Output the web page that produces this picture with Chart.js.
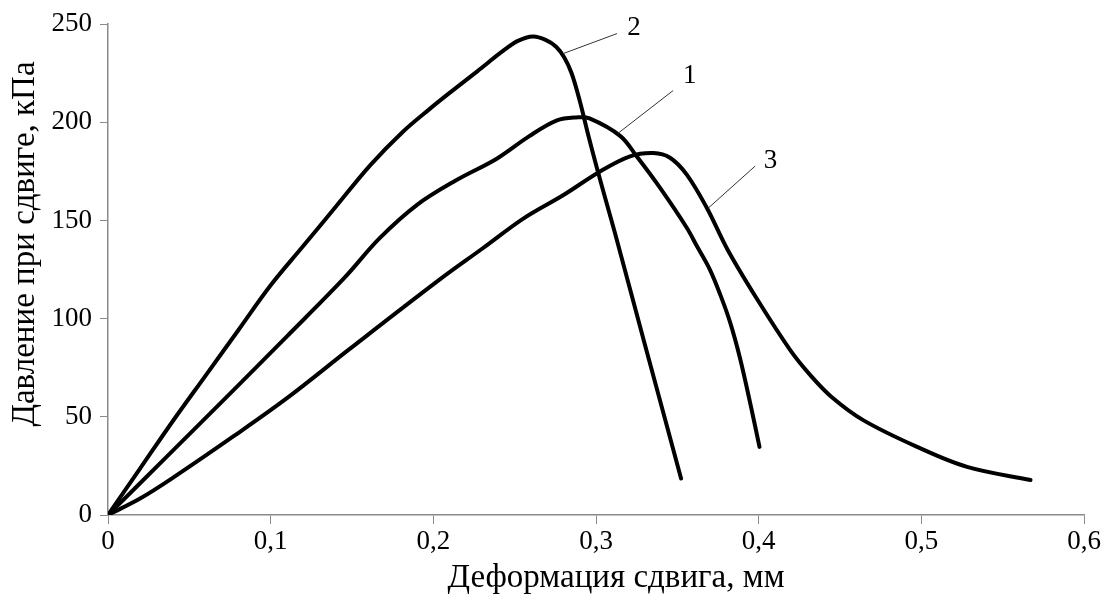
<!DOCTYPE html>
<html>
<head>
<meta charset="utf-8">
<script src="https://cdn.jsdelivr.net/npm/chart.js@4.4.1/dist/chart.umd.min.js"></script>
<style>
  html, body { margin: 0; padding: 0; background: #ffffff; }
  #wrap { width: 1111px; height: 601px; }
</style>
</head>
<body>
<div id="wrap"><canvas id="c" width="1111" height="601"></canvas></div>
<script>
// Shear deformation (mm) vs shear pressure (kPa), three specimens
const curve1X = [0, 0.036, 0.077, 0.110, 0.145, 0.167, 0.190, 0.214, 0.239, 0.259, 0.276, 0.288, 0.296, 0.315, 0.325, 0.3394, 0.3558, 0.362, 0.370, 0.3765, 0.3825, 0.3885, 0.3948, 0.4005];
const curve1Y = [0, 29.6, 63.5, 91, 120.5, 141, 158, 170.5, 181.5, 193, 201, 202.5, 202, 193, 182.7, 166.6, 146.3, 137, 125, 112, 98, 80, 57, 34.7];

const curve2X = [0, 0.020, 0.040, 0.060, 0.080, 0.100, 0.120, 0.140, 0.161, 0.181, 0.198, 0.210, 0.227, 0.243, 0.252, 0.2613, 0.2690, 0.2755, 0.2805, 0.285, 0.290, 0.2951, 0.3006, 0.3068, 0.3117, 0.330, 0.3523];
const curve2Y = [0, 24, 48, 71, 94, 117, 137, 157, 178, 195, 207, 215, 226, 236.5, 241.5, 243.7, 242, 238.5, 233, 225, 211, 194, 176.6, 158, 143.5, 87, 18.6];

const curve3X = [0, 0.020, 0.040, 0.077, 0.110, 0.1486, 0.204, 0.2306, 0.2553, 0.280, 0.3025, 0.3209, 0.3353, 0.3455, 0.3558, 0.3681, 0.381, 0.399, 0.4194, 0.432, 0.445, 0.4645, 0.4974, 0.5281, 0.5671];
const curve3Y = [0, 8.5, 19, 40, 59.5, 84.6, 120, 136, 151, 163, 175, 182.7, 184.4, 182, 173.4, 156.5, 135, 110, 84, 71, 60, 48.2, 34.7, 24.5, 17.8];

const xTicks = [0, 0.1, 0.2, 0.3, 0.4, 0.5, 0.6];
const yTicks = [0, 50, 100, 150, 200, 250];

const xTitle = 'Деформация сдвига, мм';
const yTitle = 'Давление при сдвиге, кПа';

// Curve numbers with their leader lines: [text, fromX, fromY, toX, toY, textX, textY]
const curveLabels = [
  ['2', 0.2797, 235, 0.3129, 245.2, 0.3192, 248],
  ['1', 0.3135, 194.4, 0.3474, 216.2, 0.3535, 223.5],
  ['3', 0.3690, 156.3, 0.3978, 177.7, 0.4032, 180.5]
];

function toPoints(xs, ys) { return xs.map((x, i) => ({ x: x, y: ys[i] })); }

const serif = '"Liberation Serif", "Times New Roman", serif';
const axisGray = '#8a8a8a';

const curveLabelPlugin = {
  id: 'curveLabels',
  afterDatasetsDraw(chart) {
    const { ctx, scales: { x, y } } = chart;
    ctx.save();
    curveLabels.forEach(l => {
      ctx.beginPath();
      ctx.strokeStyle = '#333333';
      ctx.lineWidth = 1;
      ctx.moveTo(x.getPixelForValue(l[1]), y.getPixelForValue(l[2]));
      ctx.lineTo(x.getPixelForValue(l[3]), y.getPixelForValue(l[4]));
      ctx.stroke();
      ctx.fillStyle = '#000000';
      ctx.font = '27px ' + serif;
      ctx.textAlign = 'left';
      ctx.textBaseline = 'middle';
      ctx.fillText(l[0], x.getPixelForValue(l[5]), y.getPixelForValue(l[6]));
    });
    ctx.restore();
  }
};

const axisTitlePlugin = {
  id: 'axisTitles',
  afterDraw(chart) {
    const { ctx } = chart;
    ctx.save();
    ctx.fillStyle = '#000000';
    ctx.font = '33px ' + serif;
    ctx.textAlign = 'center';
    ctx.textBaseline = 'middle';
    ctx.fillText(xTitle, 616, 578);
    ctx.translate(25, 244);
    ctx.rotate(-Math.PI / 2);
    ctx.fillText(yTitle, 0, 0);
    ctx.restore();
  }
};

const lineStyle = {
  borderColor: '#000000',
  borderWidth: 4,
  pointRadius: 0,
  fill: false,
  tension: 0.35,
  borderCapStyle: 'round',
  borderJoinStyle: 'round'
};

new Chart(document.getElementById('c'), {
  type: 'line',
  data: {
    datasets: [
      Object.assign({ label: '1', data: toPoints(curve1X, curve1Y) }, lineStyle),
      Object.assign({ label: '2', data: toPoints(curve2X, curve2Y) }, lineStyle),
      Object.assign({ label: '3', data: toPoints(curve3X, curve3Y) }, lineStyle)
    ]
  },
  options: {
    responsive: false,
    animation: false,
    layout: { padding: { top: 23, right: 27, left: 0, bottom: 0 } },
    plugins: { legend: { display: false }, tooltip: { enabled: false } },
    scales: {
      x: {
        type: 'linear',
        min: 0, max: 0.6,
        afterFit(s) { s.height = 86; },
        afterBuildTicks(s) { s.ticks = xTicks.map(v => ({ value: v })); },
        ticks: {
          color: '#000000',
          font: { family: serif, size: 27 },
          padding: 2,
          maxRotation: 0,
          callback: v => (v === 0 ? '0' : Number(v).toFixed(1).replace('.', ','))
        },
        grid: { display: true, drawOnChartArea: false, drawTicks: true, tickLength: 9, color: axisGray },
        border: { display: true, color: axisGray, width: 1.5 }
      },
      y: {
        type: 'linear',
        min: 0, max: 250,
        afterFit(s) { s.width = 108; },
        afterBuildTicks(s) { s.ticks = yTicks.map(v => ({ value: v })); },
        ticks: {
          color: '#000000',
          font: { family: serif, size: 27 },
          padding: 8,
          callback: v => String(v)
        },
        grid: { display: true, drawOnChartArea: false, drawTicks: true, tickLength: 8, color: axisGray },
        border: { display: true, color: axisGray, width: 1.5 }
      }
    }
  },
  plugins: [curveLabelPlugin, axisTitlePlugin]
});
</script>
</body>
</html>
